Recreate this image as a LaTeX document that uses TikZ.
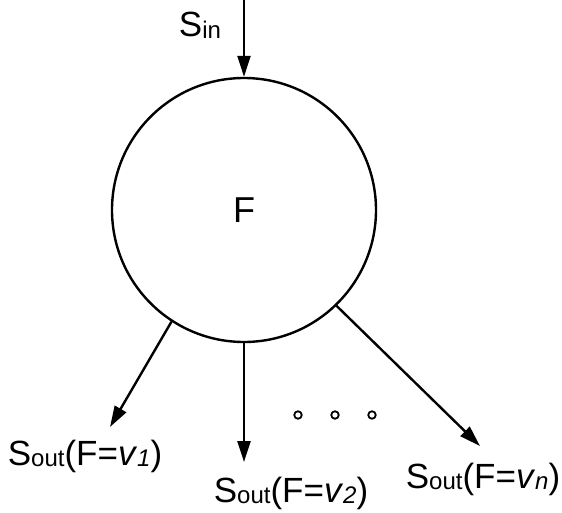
\documentclass[tikz,border=0pt]{standalone}
\usepackage{fontspec}
\setmainfont{Liberation Sans}
\usetikzlibrary{arrows.meta,positioning}
\newcommand{\bas}[1]{\raisebox{-1.5pt}{\fontsize{24}{24}\selectfont #1}}
\tikzset{
  fonction/.style={draw,circle,line width=2.4pt,minimum size=264pt,inner sep=0pt,
                   font=\fontsize{36}{40}\selectfont},
  fleche/.style={-{Triangle[length=21pt,width=13pt]},line width=2.4pt},
  etiquette/.style={anchor=base,inner sep=1pt,font=\fontsize{35}{40}\selectfont},
  point/.style={draw,circle,line width=1.8pt,fill=white,minimum size=7.5pt,inner sep=0pt},
}

\begin{document}
\begin{tikzpicture}[x=1pt,y=-1pt]
  \useasboundingbox (0,0) rectangle (562,513);
  \node[fonction] (func) at (244,210) {F};
  \coordinate (entree) at (244,0);
  \node[etiquette] (sin) at (200,37) {S\bas{in}};
  \draw[fleche] (entree) -- (func.north);
  % sorties
  \node[etiquette] (out1) at (85,465) {S\bas{out}(F=\textit{v}\bas{\textit{1}})};
  \node[etiquette] (out2) at (291,502) {S\bas{out}(F=\textit{v}\bas{\textit{2}})};
  \node[etiquette] (outn) at (483,488) {S\bas{out}(F=\textit{v}\bas{\textit{n}})};
  \coordinate (fin1) at (110,427);
  \coordinate (fin2) at (244,462);
  \coordinate (finn) at (480,446);
  \draw[fleche] (func.237.4) -- (fin1);
  \draw[fleche] (func.south) -- (fin2);
  \draw[fleche] (func.-46.2) -- (finn);
  % points de suspension
  \foreach \x/\nom in {298/p1,335/p2,372/p3}
    \node[point] (\nom) at (\x,415) {};
\end{tikzpicture}
\end{document}
